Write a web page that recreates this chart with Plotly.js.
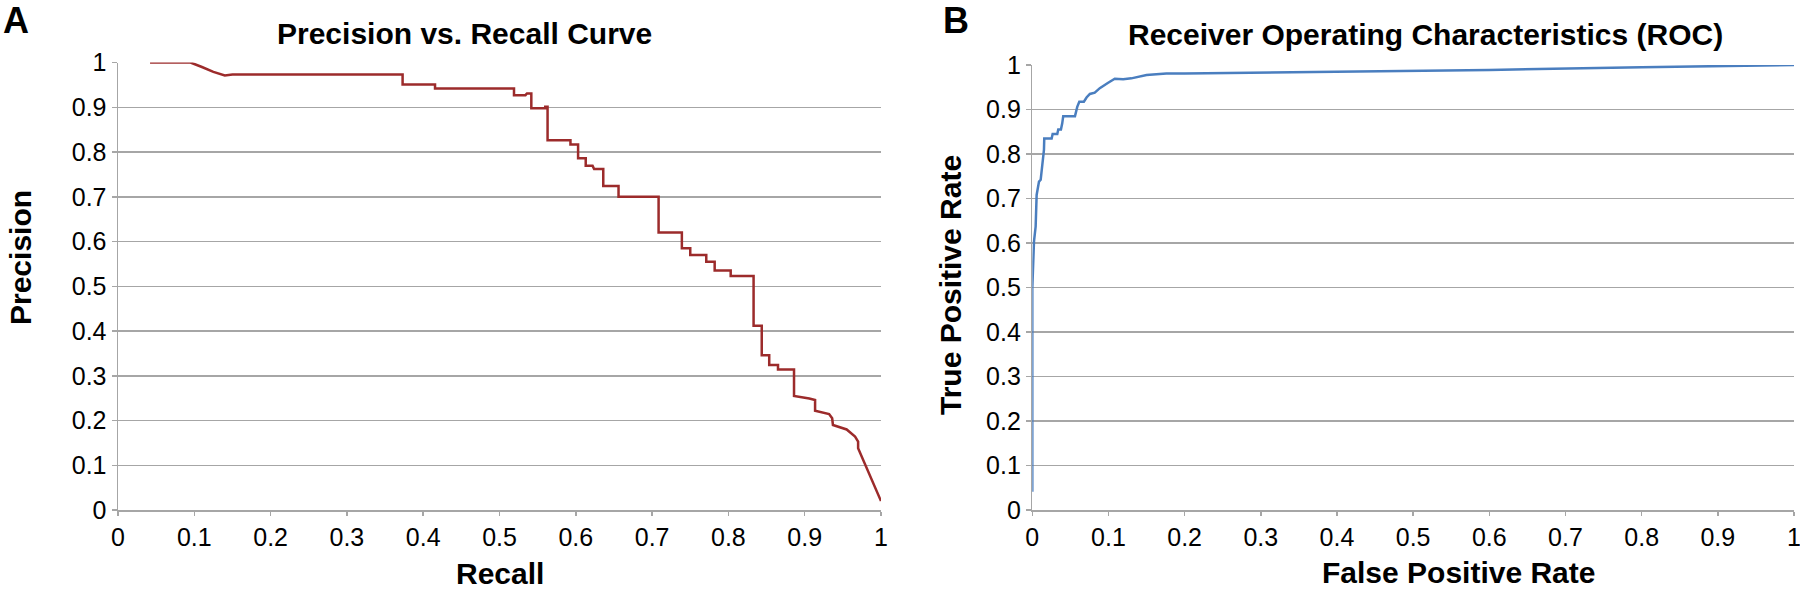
<!DOCTYPE html>
<html>
<head>
<meta charset="utf-8">
<script src="https://cdn.plot.ly/plotly-3.0.1.min.js"></script>
<style>
  html, body { margin: 0; padding: 0; background: #fff; }
  #chart { width: 1800px; height: 591px; }
</style>
</head>
<body>
<div id="chart"></div>
<script>
// Precision vs. recall curve (panel A)
const prRecall = [0.042, 0.095, 0.11, 0.125, 0.14, 0.15, 0.373, 0.373, 0.4155, 0.4155,
  0.519, 0.519, 0.534, 0.536, 0.5417, 0.5417, 0.560, 0.560, 0.563, 0.563,
  0.593, 0.593, 0.603, 0.603, 0.613, 0.613, 0.622, 0.624, 0.636, 0.636,
  0.656, 0.656, 0.7085, 0.7085, 0.739, 0.739, 0.750, 0.750, 0.771, 0.771,
  0.782, 0.782, 0.803, 0.803, 0.833, 0.833, 0.8437, 0.8437, 0.8535, 0.8535,
  0.865, 0.865, 0.886, 0.886, 0.906, 0.9136, 0.9136, 0.932, 0.936, 0.937,
  0.955, 0.966, 0.970, 0.970, 1.0];
const prPrecision = [1.0, 1.0, 0.99, 0.979, 0.971, 0.973, 0.973, 0.951, 0.951, 0.942,
  0.942, 0.927, 0.927, 0.931, 0.931, 0.898, 0.898, 0.901, 0.901, 0.826,
  0.826, 0.817, 0.817, 0.786, 0.786, 0.769, 0.769, 0.762, 0.762, 0.724,
  0.724, 0.700, 0.700, 0.620, 0.620, 0.585, 0.585, 0.570, 0.570, 0.555,
  0.555, 0.535, 0.535, 0.523, 0.523, 0.412, 0.412, 0.346, 0.346, 0.324,
  0.324, 0.314, 0.314, 0.255, 0.249, 0.246, 0.222, 0.2145, 0.205, 0.190,
  0.180, 0.164, 0.153, 0.138, 0.02];

// ROC curve (panel B)
const rocFpr = [0, 0, 0.0022, 0.0044, 0.0057, 0.0088, 0.011, 0.0131, 0.0153, 0.0157,
  0.0254, 0.0267, 0.0328, 0.0341, 0.0376, 0.0393, 0.0406, 0.056, 0.059, 0.0617,
  0.0677, 0.0712, 0.0756, 0.082, 0.0886, 0.0996, 0.1083, 0.1193, 0.130, 0.150,
  0.176, 0.2, 0.4, 0.6, 0.8, 1.0];
const rocTpr = [0.041, 0.498, 0.603, 0.637, 0.708, 0.738, 0.742, 0.779, 0.809, 0.835,
  0.835, 0.845, 0.845, 0.855, 0.855, 0.869, 0.885, 0.885, 0.906, 0.9175,
  0.9175, 0.927, 0.935, 0.938, 0.948, 0.960, 0.969, 0.968, 0.970, 0.9775,
  0.981, 0.981, 0.985, 0.989, 0.995, 1.0];

// tick labels, same on every axis
const tickVals = [0, 0.1, 0.2, 0.3, 0.4, 0.5, 0.6, 0.7, 0.8, 0.9, 1];
const tickText = ['0', '0.1', '0.2', '0.3', '0.4', '0.5', '0.6', '0.7', '0.8', '0.9', '1'];

const W = 1800, H = 591;
const FONT = 'Liberation Sans, Arial, Helvetica, sans-serif';
const GRID = '#a6a6a6';

// pixel -> paper helpers (margins are zero)
function px(x) { return x / W; }
function py(y) { return 1 - y / H; }

function xAxis(domain, anchor) {
    return {
        domain: domain, anchor: anchor, range: [0, 1],
        tickvals: tickVals, ticktext: tickText,
        showgrid: false, zeroline: false,
        showline: true, linecolor: GRID, linewidth: 1.5,
        ticks: 'outside', ticklen: 4, tickwidth: 1.5, tickcolor: GRID,
        tickfont: { family: FONT, size: 25, color: '#000' },
        ticklabeloverflow: 'allow',
        fixedrange: true
    };
}

function yAxis(domain, anchor) {
    return {
        domain: domain, anchor: anchor, range: [0, 1],
        tickvals: tickVals, ticktext: tickText,
        showgrid: true, gridcolor: GRID, gridwidth: 1.5,
        zeroline: false,
        showline: true, linecolor: GRID, linewidth: 1.5,
        ticks: 'outside', ticklen: 5, tickwidth: 1.5, tickcolor: GRID,
        tickfont: { family: FONT, size: 25, color: '#000' },
        fixedrange: true
    };
}

function label(text, x, y, size, angle) {
    return {
        text: text, xref: 'paper', yref: 'paper',
        x: px(x), y: py(y), xanchor: 'center', yanchor: 'middle',
        showarrow: false, textangle: angle || 0,
        font: { family: FONT, size: size, color: '#000', weight: 'bold' }
    };
}

const traces = [{
    x: prRecall, y: prPrecision,
    type: 'scatter', mode: 'lines',
    line: { color: '#9c2b2b', width: 2.5 },
    cliponaxis: false,
    xaxis: 'x', yaxis: 'y'
}, {
    x: rocFpr, y: rocTpr,
    type: 'scatter', mode: 'lines',
    line: { color: '#4a7ebf', width: 2.5 },
    cliponaxis: false,
    xaxis: 'x2', yaxis: 'y2'
}];

const layout = {
    width: W, height: H,
    margin: { l: 0, r: 0, t: 0, b: 0, pad: 0 },
    paper_bgcolor: '#fff', plot_bgcolor: '#fff',
    showlegend: false,
    xaxis: xAxis([px(118), px(881)], 'y'),
    yaxis: yAxis([py(510), py(62.5)], 'x'),
    xaxis2: xAxis([px(1032.3), px(1794)], 'y2'),
    yaxis2: yAxis([py(510), py(65)], 'x2'),
    annotations: [
        label('A', 16, 21, 36),
        label('B', 956, 20, 36),
        label('Precision vs. Recall Curve', 464, 33, 30),
        label('Receiver Operating Characteristics (ROC)', 1425, 35, 30),
        label('Recall', 500, 573, 30),
        label('False Positive Rate', 1458, 572, 30),
        label('Precision', 20, 258, 30, -90),
        label('True Positive Rate', 950, 285, 30, -90)
    ]
};

Plotly.newPlot('chart', traces, layout, { displayModeBar: false, staticPlot: true });
</script>
</body>
</html>
